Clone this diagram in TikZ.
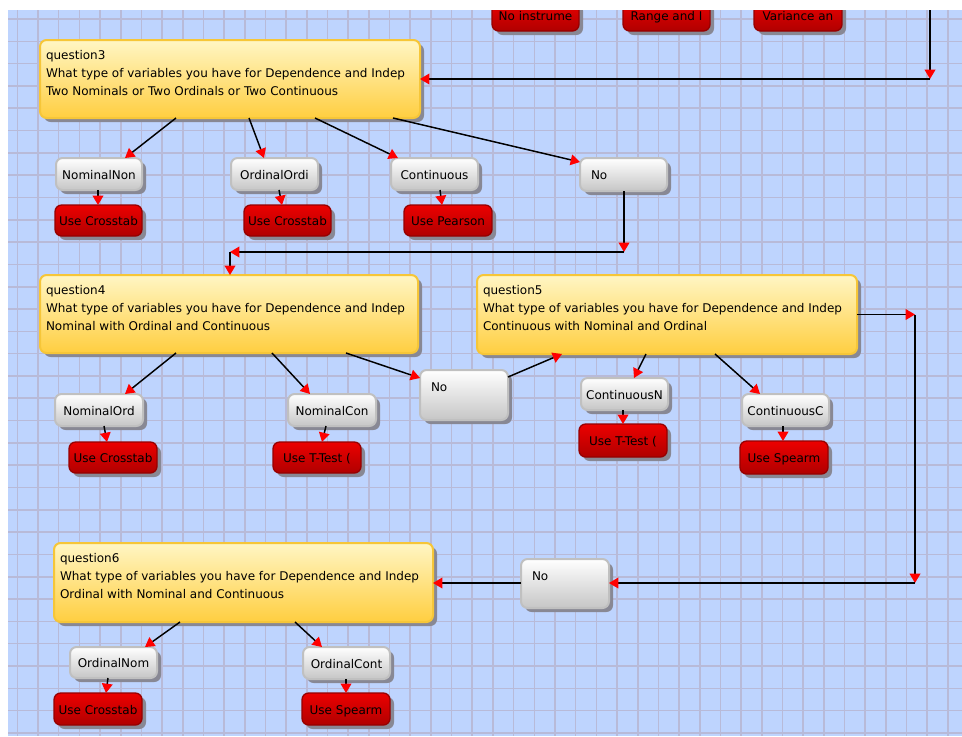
\documentclass[tikz,border=0pt]{standalone}
\usepackage{fontspec}
\setmainfont{DejaVu Sans}
\usetikzlibrary{arrows.meta,fit,calc}
\definecolor{bgblue}{RGB}{190,212,254}
\definecolor{gridc}{RGB}{184,186,216}
\definecolor{ytop}{RGB}{255,246,196}
\definecolor{ybot}{RGB}{255,206,64}
\definecolor{yedge}{RGB}{246,198,56}
\definecolor{gtop}{RGB}{255,255,255}
\definecolor{gbot}{RGB}{198,198,198}
\definecolor{gedge}{RGB}{192,192,192}
\definecolor{rtop}{RGB}{236,0,0}
\definecolor{rbot}{RGB}{176,0,0}
\definecolor{redge}{RGB}{150,0,0}
\definecolor{shc}{RGB}{136,136,148}
\definecolor{arrred}{RGB}{255,0,0}
\tikzset{
 qbox/.style={draw=yedge, line width=1.5pt, rounded corners=5pt, top color=ytop, bottom color=ybot, inner sep=0pt, outer sep=0pt},
 gbox/.style={draw=gedge, line width=1.5pt, rounded corners=5pt, top color=gtop, bottom color=gbot, inner sep=0pt, outer sep=0pt},
 rbox/.style={draw=redge, line width=1pt, rounded corners=5pt, top color=rtop, bottom color=rbot, inner sep=0pt, outer sep=0pt},
 shadowbox/.style={fill=shc, rounded corners=5pt},
 lbl/.style={anchor=base west, inner sep=0pt, outer sep=0pt, text=black},
 conn/.style={draw=black, line width=1.1pt, -{Triangle[length=7pt,width=8pt,color=arrred,fill=arrred]}},
 gridline/.style={draw=gridc, line width=1.2pt},
}
% centred label box
\newcommand{\mkbox}[7]{%
  \fill[shadowbox] (#3+4,#4+4) rectangle (#5+4,#6+4);
  \node[#2, fit={(#3,#4) (#5,#6)}] (#1) {};
  \begin{scope}
    \clip (#3+3,#4) rectangle (#5-3,#6);
    \node[lbl, anchor=base] (#1t) at ({(#3+#5)/2},{(#4+#6)/2+5}) {#7};
  \end{scope}
}
% "No" box
\newcommand{\mkno}[5]{%
  \fill[shadowbox] (#2+4,#3+4) rectangle (#4+4,#5+4);
  \node[gbox, fit={(#2,#3) (#4,#5)}] (#1) {};
  \node[lbl] (#1t) at (#2+11,#3+21) {No};
}
% question box
\newcommand{\mkq}[8]{%
  \fill[shadowbox] (#2+4,#3+4) rectangle (#4+4,#5+4);
  \node[qbox, fit={(#2,#3) (#4,#5)}] (#1) {};
  \begin{scope}
    \clip (#2,#3) rectangle (#4-5,#5);
    \node[lbl] (#1a) at (#2+6,#3+19) {#6};
    \node[lbl] (#1b) at (#2+6,#3+37) {#7};
    \node[lbl] (#1c) at (#2+6,#3+55) {#8};
  \end{scope}
}
\begin{document}
\begin{tikzpicture}[x=0.75pt,y=-0.75pt,font=\fontsize{9}{11}\selectfont]
\useasboundingbox (0,0) rectangle (962,736);
\fill[white] (0,0) rectangle (962,736);
\begin{scope}
\clip (8,10) rectangle (962,736);
\fill[bgblue] (8,10) rectangle (962,736);
\foreach \i in {0,...,45} {\draw[gridline] ({17.3+20.68*\i},10) -- ({17.3+20.68*\i},736);}
\foreach \j in {0,...,32} {\draw[gridline] (8,{19+22.31*\j}) -- (962,{19+22.31*\j});}

% top row (cut off)
\mkbox{t1}{rbox}{492}{0}{579}{31}{No instrume}
\mkbox{t2}{rbox}{623}{0}{710}{31}{Range and I}
\mkbox{t3}{rbox}{754}{0}{842}{31}{Variance an}

% questions
\mkq{q3}{40}{40}{420}{118}{question3}{What type of variables you have for Dependence and Indep}{Two Nominals or Two Ordinals or Two Continuous}
\mkq{q4}{40}{275}{418}{353}{question4}{What type of variables you have for Dependence and Indep}{Nominal with Ordinal and Continuous}
\mkq{q5}{477}{275}{857}{354}{question5}{What type of variables you have for Dependence and Indep}{Continuous with Nominal and Ordinal}
\mkq{q6}{54}{543}{433}{622}{question6}{What type of variables you have for Dependence and Indep}{Ordinal with Nominal and Continuous}

% q3 children
\mkbox{n31}{gbox}{56}{158}{142}{190}{NominalNon}
\mkbox{u31}{rbox}{55}{205}{142}{236}{Use Crosstab}
\mkbox{n32}{gbox}{231}{158}{318}{190}{OrdinalOrdi}
\mkbox{u32}{rbox}{244}{205}{331}{236}{Use Crosstab}
\mkbox{n33}{gbox}{391}{158}{478}{190}{Continuous}
\mkbox{u33}{rbox}{404}{205}{492}{236}{Use Pearson}
\mkno{no3}{580}{158}{667}{191}

% q4 children
\mkbox{n41}{gbox}{55}{394}{143}{426}{NominalOrd}
\mkbox{u41}{rbox}{69}{442}{157}{473}{Use Crosstab}
\mkbox{n42}{gbox}{288}{394}{376}{426}{NominalCon}
\mkbox{u42}{rbox}{273}{442}{361}{473}{Use T-Test (}
\mkno{no4}{420}{370}{508}{420}

% q5 children
\mkbox{n51}{gbox}{581}{378}{668}{410}{ContinuousN}
\mkbox{u51}{rbox}{579}{424}{667}{457}{Use T-Test (}
\mkbox{n52}{gbox}{742}{394}{829}{426}{ContinuousC}
\mkbox{u52}{rbox}{740}{441}{828}{474}{Use Spearm}
\mkno{no6}{521}{559}{609}{608}

% q6 children
\mkbox{n61}{gbox}{70}{647}{157}{678}{OrdinalNom}
\mkbox{u61}{rbox}{54}{693}{142}{725}{Use Crosstab}
\mkbox{n62}{gbox}{303}{647}{390}{679}{OrdinalCont}
\mkbox{u62}{rbox}{302}{693}{390}{725}{Use Spearm}

% connectors: top loop into q3
\coordinate (tin) at (930,10);
\coordinate (k0) at (930,79);
\draw[conn] (tin) -- (k0);
\draw[conn] (k0) -- (q3.east |- k0);

% q3
\draw[conn] ($(q3.south west)+(136,0)$) -- ($(n31.north west)+(69,0)$);
\draw[conn] ($(q3.south west)+(209,0)$) -- ($(n32.north west)+(33,0)$);
\draw[conn] ($(q3.south west)+(275,0)$) -- ($(n33.north west)+(7,0)$);
\draw[conn] ($(q3.south west)+(353,0)$) -- ($(no3.north west)+(0,4)$);
\draw[conn] ($(n31.south west)+(42,0)$) -- ($(u31.north west)+(43,0)$);
\draw[conn] ($(n32.south west)+(48,0)$) -- ($(u32.north west)+(38,0)$);
\draw[conn] ($(n33.south west)+(49,0)$) -- ($(u33.north west)+(38,0)$);
\coordinate (k1) at (624,252);
\coordinate (k2) at (230,252);
\draw[conn] ($(no3.south west)+(44,0)$) -- (k1);
\draw[conn] (k1) -- (k2);
\draw[conn] (k2) -- (q4.north -| k2);

% q4
\draw[conn] ($(q4.south west)+(136,0)$) -- ($(n41.north west)+(70,0)$);
\draw[conn] ($(n41.south west)+(49,0)$) -- ($(u41.north west)+(38,0)$);
\draw[conn] ($(q4.south west)+(232,0)$) -- ($(n42.north west)+(22,0)$);
\draw[conn] ($(n42.south west)+(38,0)$) -- ($(u42.north west)+(49,0)$);
\draw[conn] ($(q4.south west)+(306,0)$) -- ($(no4.north west)+(0,8)$);
\draw[conn] ($(no4.north east)+(0,7)$) -- ($(q5.south west)+(85,0)$);

% q5
\draw[conn] ($(q5.south west)+(169,0)$) -- ($(n51.north west)+(53,0)$);
\draw[conn] ($(n51.south west)+(42,0)$) -- ($(u51.north west)+(44,0)$);
\draw[conn] ($(q5.south west)+(238,0)$) -- ($(n52.north west)+(18,0)$);
\draw[conn] ($(n52.south west)+(41,0)$) -- ($(u52.north west)+(43,0)$);
\coordinate (k4) at (915,583);
\coordinate (k3) at (q5.east -| k4);
\draw[conn] (q5.east) -- (k3);
\draw[conn] (k3) -- (k4);
\draw[conn] (k4) -- (no6.east |- k4);
\draw[conn] (no6.west |- k4) -- (q6.east |- k4);

% q6
\draw[conn] ($(q6.south west)+(126,0)$) -- ($(n61.north west)+(75,0)$);
\draw[conn] ($(n61.south west)+(38,0)$) -- ($(u61.north west)+(52,0)$);
\draw[conn] ($(q6.south west)+(241,0)$) -- ($(n62.north west)+(19,0)$);
\draw[conn] ($(n62.south west)+(43,0)$) -- ($(u62.north west)+(44,0)$);
\end{scope}
\end{tikzpicture}
\end{document}
